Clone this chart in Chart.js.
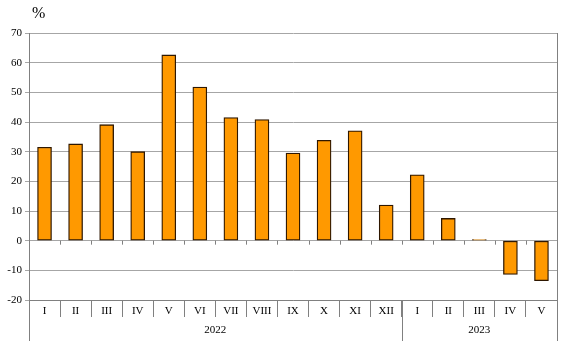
<!DOCTYPE html>
<html>
<head>
<meta charset="utf-8">
<script src="https://cdn.jsdelivr.net/npm/chart.js@4/dist/chart.umd.min.js"></script>
<style>
  html, body { margin: 0; padding: 0; background: #fff; }
  #wrap { width: 566px; height: 341px; }
</style>
</head>
<body>
<div id="wrap"><canvas id="c" width="566" height="341"></canvas></div>
<script>
  // months 2022 I..XII, 2023 I..V
  var monthLabels = ['I', 'II', 'III', 'IV', 'V', 'VI', 'VII', 'VIII', 'IX', 'X', 'XI', 'XII',
                     'I', 'II', 'III', 'IV', 'V'];
  var values = [31.5, 32.6, 39.1, 30.0, 62.6, 51.8, 41.5, 40.8, 29.5, 33.8, 37.0, 12.0,
                22.2, 7.5, 0.4, -11.4, -13.5];
  var years = ['2022', '2023'];
  var yearStarts = [0, 12];   // first category index of each year

  var font = "'Liberation Serif', 'Times New Roman', serif";
  var axisGray = '#808080';

  var extrasPlugin = {
    id: 'extras',
    afterDraw: function (chart) {
      var ctx = chart.ctx;
      var x = chart.scales.x;
      var y = chart.scales.y;
      var area = chart.chartArea;
      var half = (x.getPixelForValue(1) - x.getPixelForValue(0)) / 2;
      var y0 = y.getPixelForValue(0);
      ctx.save();
      ctx.strokeStyle = axisGray;
      ctx.lineWidth = 1;
      // small tick marks on the zero line
      for (var i = 1; i < monthLabels.length; i++) {
        var bx = Math.round(x.getPixelForValue(i) - half) + 0.5;
        ctx.beginPath();
        ctx.moveTo(bx, y0);
        ctx.lineTo(bx, y0 + 4);
        ctx.stroke();
      }
      // year separators + right border
      var seps = yearStarts.concat([monthLabels.length]);
      seps.forEach(function (s) {
        var sx = Math.round(x.getPixelForValue(s) - half) + 0.5;
        ctx.beginPath();
        ctx.moveTo(sx, s === monthLabels.length ? area.top : area.bottom);
        ctx.lineTo(sx, chart.height);
        ctx.stroke();
      });
      // year labels
      ctx.fillStyle = '#000';
      ctx.font = '11px ' + font;
      ctx.textAlign = 'center';
      ctx.textBaseline = 'middle';
      years.forEach(function (yr, k) {
        var a = x.getPixelForValue(yearStarts[k]) - half;
        var b = x.getPixelForValue(seps[k + 1]) - half;
        ctx.fillText(yr, (a + b) / 2, area.bottom + 30);
      });
      // unit label
      ctx.font = '16px ' + font;
      ctx.textAlign = 'left';
      ctx.fillText('%', 32, 14);
      ctx.restore();
    }
  };

  new Chart(document.getElementById('c'), {
    type: 'bar',
    data: {
      labels: monthLabels,
      datasets: [{
        data: values,
        backgroundColor: '#ff9900',
        borderColor: '#2e1700',
        borderWidth: 1.3,
        borderSkipped: false,
        barThickness: 14,
      }],
    },
    options: {
      responsive: false,
      animation: false,
      layout: { padding: { top: 33, right: 9, left: 0, bottom: 0 } },
      plugins: { legend: { display: false }, tooltip: { enabled: false } },
      scales: {
        x: {
          afterFit: function (s) { s.height = 41; },
          grid: {
            offset: true,
            drawOnChartArea: false,
            tickLength: 17,
            color: axisGray,
          },
          border: { color: axisGray },
          ticks: {
            color: '#000',
            font: { family: font, size: 11 },
            padding: -12,
            maxRotation: 0,
            autoSkip: false,
          },
        },
        y: {
          min: -20,
          max: 70,
          afterFit: function (s) { s.width = 29; },
          grid: { color: '#a6a6a6', tickLength: 4, lineWidth: 1 },
          border: { color: axisGray },
          ticks: {
            stepSize: 10,
            color: '#000',
            font: { family: font, size: 11 },
            padding: 3,
          },
        },
      },
    },
    plugins: [extrasPlugin],
  });
</script>
</body>
</html>
